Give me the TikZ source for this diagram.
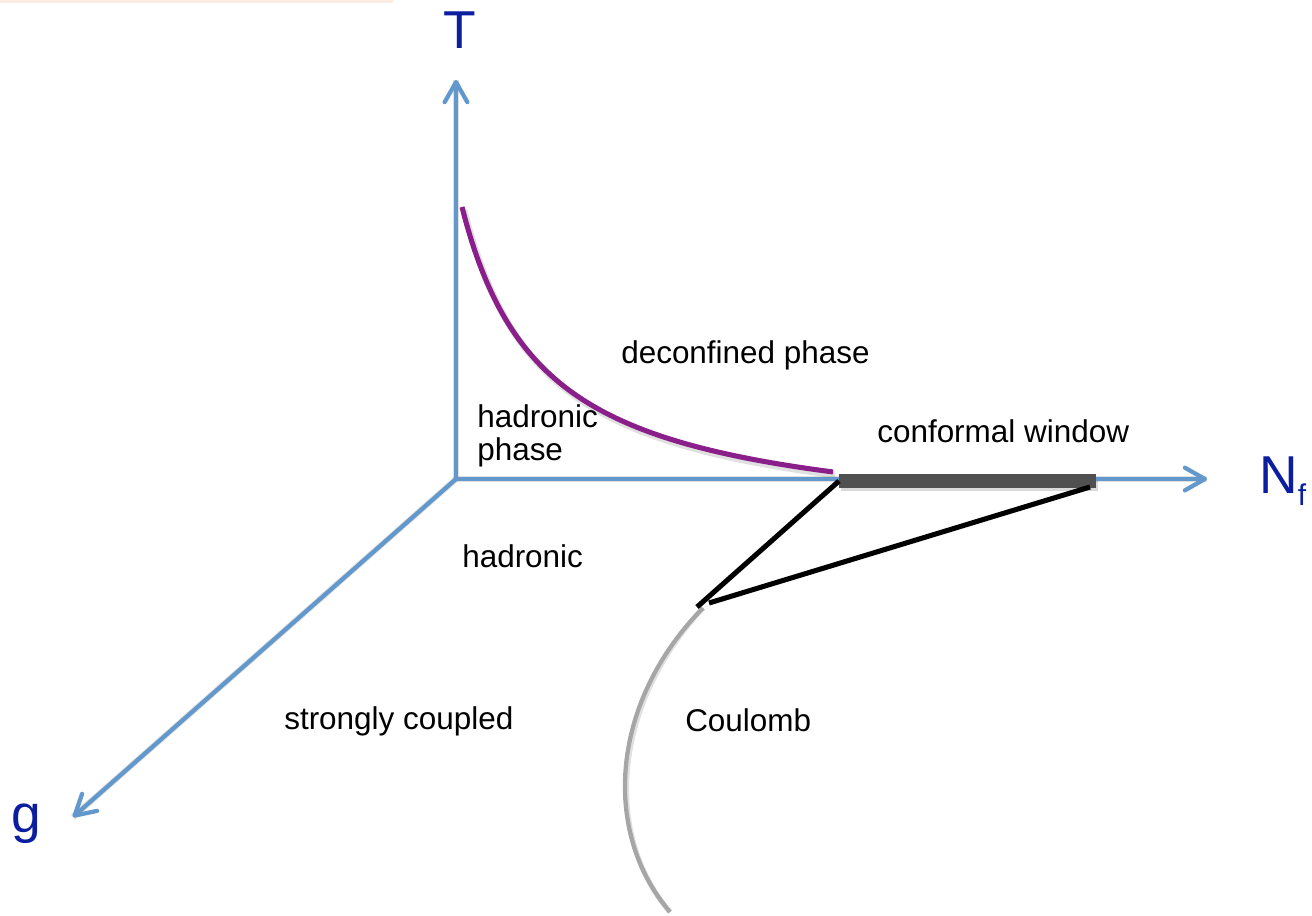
\documentclass[tikz,border=0pt]{standalone}
\usepackage{fontspec}
\setmainfont{Liberation Sans}
\usetikzlibrary{arrows.meta}
\definecolor{axisblue}{RGB}{98,152,204}
\definecolor{labelblue}{RGB}{12,30,160}
\definecolor{critline}{RGB}{138,30,138}
\definecolor{bargray}{RGB}{80,80,80}
\definecolor{coulgray}{RGB}{166,166,166}
\definecolor{peach}{RGB}{252,236,226}
\begin{document}
\begin{tikzpicture}[x=0.75pt,y=-0.75pt,
  axis/.style={draw=axisblue,line width=3.2pt,line cap=round,
    -{Straight Barb[length=15pt,width=17pt,round]}},
  shadowline/.style={draw=black,opacity=0.12,line width=4.5pt},
  axlabel/.style={inner sep=0pt,text=labelblue,font=\fontsize{40}{40}\selectfont},
  phase/.style={inner sep=0pt,font=\fontsize{23.6}{24.8}\selectfont},
  border/.style={draw=black,line width=3.8pt},
]
\useasboundingbox (0,0) rectangle (1312,915);

% thin strip along the top edge
\fill[peach] (0,0) rectangle (393,2.5);

% named points
\coordinate (O) at (456,479);
\coordinate (Ttip) at (456,80);
\coordinate (Ntip) at (1207,479);
\coordinate (gtip) at (73,817);
\coordinate (cwL) at (839,481);
\coordinate (cwR2) at (1090,487);
\coordinate (cA) at (697,607);
\coordinate (cB) at (709,603);
\coordinate (coul0) at (703,608);
\coordinate (coul1) at (670,912);

% hyperbola-shaped transition line T(N_f)
\def\critpath{plot[domain=462:833,samples=90,smooth]
  (\x,{530.5-265.27/((\x-380)/100)})}

% soft shadows
\begin{scope}[shift={(2,3)}]
  \draw[shadowline] (O) -- (Ttip);
  \draw[shadowline] (O) -- (Ntip);
  \draw[shadowline] (O) -- (gtip);
  \draw[shadowline,line width=5pt] \critpath;
  \draw[shadowline,line width=4pt] (coul0) .. controls (612,700) and (600,830) .. (coul1);
  \fill[black,opacity=0.15] (839,474) rectangle (1096,488);
\end{scope}

% axes
\draw[axis] (O) -- (Ttip);
\draw[axis] (O) -- (Ntip);
\draw[axis] (O) -- (gtip);

% axis labels
\node[axlabel,anchor=base] (T) at (460,48) {T};
\node[axlabel,anchor=base west] (Nf) at (1259,493)
  {N{\fontsize{22.5}{22.5}\selectfont\raisebox{-9pt}{f}}};
\node[axlabel,anchor=base west] (g) at (11,832) {g};

% transition line between hadronic and deconfined phases
\draw[critline,line width=3.8pt] \critpath;

% Coulomb boundary
\draw[coulgray,line width=3.2pt] (coul0) .. controls (612,700) and (600,830) .. (coul1);

% conformal window
\fill[bargray] (839,474) rectangle (1096,488);
\draw[border] (cwL) -- (cA);
\draw[border] (cwR2) -- (cB);

% phase labels
\node[phase,anchor=base west] (dec) at (621,363) {deconfined phase};
\node[phase,anchor=base west] (cw) at (877,442) {conformal window};
\node[phase,anchor=base west] (had) at (462,567) {hadronic};
\node[phase,anchor=base west] (hadp1) at (477,427) {hadronic};
\node[phase,anchor=base west] (hadp2) at (477,460) {phase};
\node[phase,anchor=base west] (sc) at (284,729) {strongly coupled};
\node[phase,anchor=base west] (cl) at (685,731) {Coulomb};
\end{tikzpicture}
\end{document}
